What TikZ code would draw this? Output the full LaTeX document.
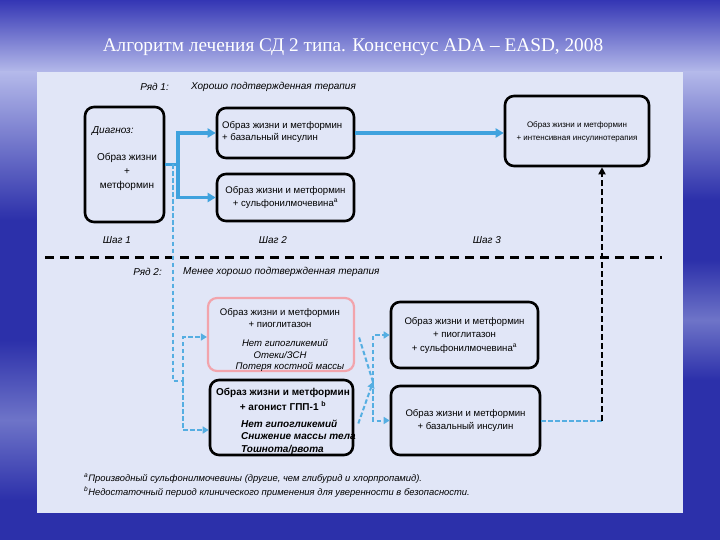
\documentclass[tikz,border=0pt]{standalone}
\usepackage{fontspec}
\setmainfont{Liberation Sans}
\newfontfamily\titlefont{Liberation Serif}
\usetikzlibrary{arrows.meta,calc}
\definecolor{panel}{HTML}{E1E6F7}
\definecolor{sideblue}{HTML}{2C30AA}
\definecolor{topblue}{HTML}{3436B4}
\definecolor{paleblue}{HTML}{B4B9EA}
\definecolor{midblue}{HTML}{6E74C8}
\definecolor{lblue}{HTML}{3FA2DE}
\definecolor{dblue}{HTML}{55AEE2}
\definecolor{pinkb}{HTML}{F2A4AC}
\tikzset{
  box/.style={draw=black, line width=2.6pt, rounded corners=9pt, fill=panel, inner sep=0pt},
  txt/.style={font=\fontsize{9.6}{12.5}\selectfont, inner sep=0pt, align=center},
  lbl/.style={font=\fontsize{10}{12}\selectfont\itshape, inner sep=0pt},
  bline/.style={line width=3.2pt, draw=lblue},
  barrow/.style={bline, -{Triangle[length=8pt,width=9pt]}},
  dline/.style={line width=2pt, draw=dblue, dash pattern=on 4.5pt off 2.5pt},
  darrow/.style={dline, -{Triangle[length=6pt,width=7pt]}},
  kline/.style={line width=3pt, draw=black, dash pattern=on 9pt off 6pt},
}
\begin{document}
\begin{tikzpicture}[x=1pt,y=-1pt]
\useasboundingbox (0,0) rectangle (720,540);
% background
\fill[sideblue] (0,0) rectangle (720,540);
\shade[top color=topblue, bottom color=paleblue] (0,0) rectangle (720,72);
\shade[top color=paleblue, bottom color=sideblue] (0,72) rectangle (37,220);
\shade[top color=sideblue, bottom color=midblue] (0,340) rectangle (37,420);
\shade[top color=midblue, bottom color=sideblue] (0,420) rectangle (37,500);
\shade[top color=paleblue, bottom color=sideblue] (683,72) rectangle (720,200);
\shade[top color=sideblue, bottom color=midblue] (683,260) rectangle (720,320);
\shade[top color=midblue, bottom color=sideblue] (683,320) rectangle (720,380);
\fill[panel] (37,72) rectangle (683,513);
% title
\node[text=white, font=\titlefont\fontsize{19.3}{21}\selectfont, inner sep=0pt] (title) at (353,47) {Алгоритм лечения СД 2 типа. Консенсус ADA – EASD, 2008};
% row labels
\node[lbl, anchor=east] (r1) at (169,87) {Ряд 1:};
\node[lbl, anchor=west] (r1t) at (191,87) {Хорошо подтвержденная терапия};
\node[lbl] (s1) at (117,240) {Шаг 1};
\node[lbl] (s2) at (273,240) {Шаг 2};
\node[lbl] (s3) at (487,240) {Шаг 3};
\node[lbl, anchor=east] (r2) at (162,272) {Ряд 2:};
\node[lbl, anchor=west] (r2t) at (183,272) {Менее хорошо подтвержденная терапия};
% divider
\draw[kline] (45,257) -- (662,257);
% row 1 boxes
\node[box, minimum width=79pt, minimum height=115pt] (diag) at (124.5,164.5) {};
\node[lbl, anchor=west] (diagl) at (92,131) {Диагноз:};
\node[txt, font=\fontsize{10}{14}\selectfont] (diagt) at (127,172) {Образ жизни\\+\\метформин};
\node[box, minimum width=137pt, minimum height=50pt] (A1) at (285.5,133) {};
\node[txt, align=left, anchor=west] (A1t) at (222,132) {Образ жизни и метформин\\+ базальный инсулин};
\node[box, minimum width=137pt, minimum height=47pt] (A2) at (285.5,197.5) {\fontsize{9.6}{13}\selectfont\begin{tabular}{@{}c@{}}Образ жизни и метформин\\+ сульфонилмочевина\textsuperscript{a}\end{tabular}};
\node[box, minimum width=144pt, minimum height=70pt] (A3) at (577,131) {\fontsize{8}{13}\selectfont\begin{tabular}{@{}c@{}}Образ жизни и метформин\\+ интенсивная инсулинотерапия\end{tabular}};
% row 2 boxes
\node[box, draw=pinkb, line width=2.2pt, minimum width=146pt, minimum height=73pt] (B1) at (281,334.5) {};
\node[txt] (B1a) at (280,318) {Образ жизни и метформин\\+ пиоглитазон};
\node[lbl, font=\fontsize{9.6}{12}\selectfont\itshape] (B1b) at (285,343) {Нет гипогликемий};
\node[lbl, font=\fontsize{9.6}{12}\selectfont\itshape] (B1c) at (280,355) {Отеки/ЗСН};
\node[lbl, font=\fontsize{9.6}{12}\selectfont\itshape] (B1d) at (290,367) {Потеря костной массы};
\node[box, minimum width=143pt, minimum height=75pt] (B2) at (281.5,417.5) {};
\node[txt, font=\fontsize{10}{14.5}\selectfont\bfseries] (B2a) at (283,399.5) {Образ жизни и метформин\\+ агонист ГПП-1 \textsuperscript{b}};
\node[lbl, font=\fontsize{10}{12.5}\selectfont\bfseries\itshape, align=left, anchor=west] (B2b) at (241,437) {Нет гипогликемий\\Снижение массы тела\\Тошнота/рвота};
\node[box, minimum width=147pt, minimum height=66pt] (B3) at (464.5,335) {\fontsize{9.6}{13.5}\selectfont\begin{tabular}{@{}c@{}}Образ жизни и метформин\\+ пиоглитазон\\+ сульфонилмочевина\textsuperscript{a}\end{tabular}};
\node[box, minimum width=149pt, minimum height=69pt] (B4) at (465.5,420.5) {\fontsize{9.6}{13.5}\selectfont\begin{tabular}{@{}c@{}}Образ жизни и метформин\\+ базальный инсулин\end{tabular}};
% footnotes
\node[font=\fontsize{9.4}{14}\selectfont\itshape, align=left, anchor=north west, inner sep=0pt] (fn) at (84,474) {\textsuperscript{a}Производный сульфонилмочевины (другие, чем глибурид и хлорпропамид).\\\textsuperscript{b}Недостаточный период клинического применения для уверенности в безопасности.};
% connectors row 1
\coordinate (j1) at (178,164.5);
\coordinate (j0) at (173,164.5);
\draw[bline] (diag.east) -- (j1);
\draw[barrow] (j1) |- (A1.west);
\draw[barrow] (j1) |- (A2.west);
\draw[barrow] (A1.east) -- (A1.east -| A3.west);
% connectors row 2
\coordinate (j2) at (183,381);
\draw[dline] (j0) |- (j2);
\draw[darrow] (j2) |- (B1.west |- 0,337);
\draw[darrow] (j2) |- (B2.west |- 0,430);
\coordinate (j3) at (373,382);
\draw[dline] ($(B1.east)+(4,3)$) -- (j3);
\draw[darrow] ($(B2.east)+(4,6)$) -- (j3);
\draw[darrow] (j3) |- (B3.west);
\draw[darrow] (j3) |- (B4.west);
\coordinate (j4) at (602,420.5);
\draw[dline] (B4.east) -- (j4);
\draw[line width=2.4pt, dash pattern=on 6pt off 3pt, -{Triangle[length=7pt,width=7pt]}] (j4) -- (j4 |- A3.south);
\end{tikzpicture}
\end{document}
